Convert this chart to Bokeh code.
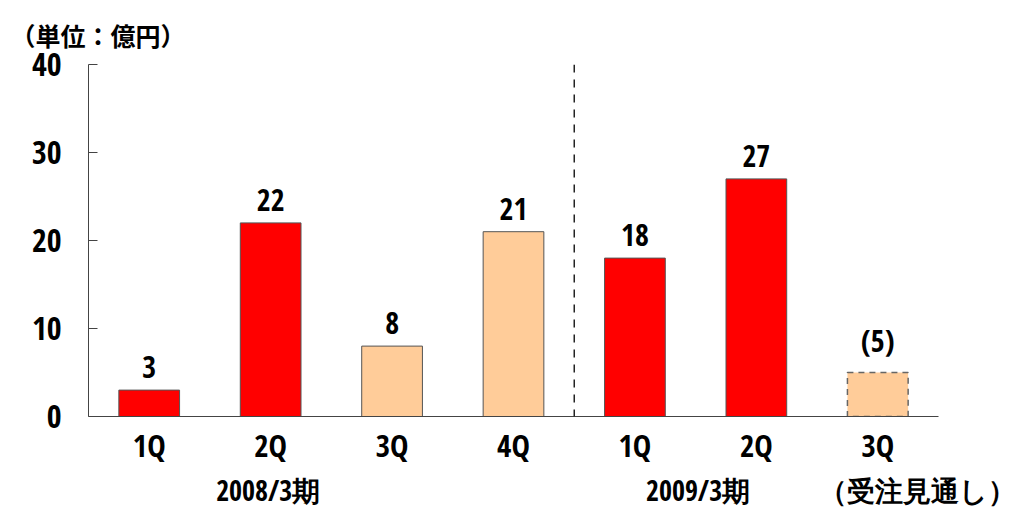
from bokeh.plotting import figure
from bokeh.models import Range1d, FixedTicker, ColumnDataSource, Span, LinearAxis
from bokeh.core.properties import value
from bokeh.embed import file_html
from bokeh.resources import INLINE

# Quarterly orders (unit: 100 million yen)
quarters = ["1Q", "2Q", "3Q", "4Q", "1Q", "2Q", "3Q"]
orders = [3, 22, 8, 21, 18, 27, 5]
value_labels = ["3", "22", "8", "21", "18", "27", "(5)"]
bar_colors = ["#FF0000", "#FF0000", "#FFCC99", "#FFCC99", "#FF0000", "#FF0000", "#FFCC99"]
period_labels = ["2008/3期", "2009/3期", "（受注見通し）"]
period_centers = [1.48, 5.02, 6.86]

NUM_FONT = "Open Sans Condensed"
JP_FONT = "Noto Sans CJK JP"

xs = [i + 0.5 for i in range(len(orders))]

p = figure(width=1015, height=511, output_backend="svg", toolbar_location=None,
           x_range=Range1d(0, 7), y_range=Range1d(0, 40),
           min_border_left=88, min_border_right=77, min_border_top=64, min_border_bottom=94,
           title="（単位：億円）")
p.outline_line_color = None
p.xgrid.grid_line_color = None
p.ygrid.grid_line_color = None

p.title.text_font = JP_FONT
p.title.text_font_style = "bold"
p.title.text_font_size = "25px"
p.title.text_color = "black"
p.title.align = "left"
p.title.vertical_align = "top"
p.title.offset = -78
p.title.standoff = 20

solid = ColumnDataSource(dict(x=xs[:-1], top=orders[:-1], color=bar_colors[:-1]))
p.vbar(x="x", top="top", width=0.5, bottom=0, source=solid,
       fill_color="color", line_color="#555555", line_width=1)

forecast = ColumnDataSource(dict(x=xs[-1:], top=orders[-1:], color=bar_colors[-1:]))
p.vbar(x="x", top="top", width=0.5, bottom=0, source=forecast,
       fill_color="color", line_color="#666666", line_width=1.5, line_dash="6 5")

labels = ColumnDataSource(dict(x=xs, y=orders, t=value_labels))
p.text(x="x", y="y", text="t", source=labels, y_offset=-12,
       text_align="center", text_baseline="bottom",
       text_font=value(NUM_FONT), text_font_style="bold",
       text_font_size="30px", text_color="black")

# divider between fiscal years
p.add_layout(Span(location=4, dimension="height", line_color="black",
                  line_width=1.3, line_dash="8 7"))

# y axis
p.yaxis.ticker = FixedTicker(ticks=[0, 10, 20, 30, 40])
p.yaxis.major_tick_in = 9
p.yaxis.major_tick_out = 0
p.yaxis.minor_tick_line_color = None
p.yaxis.axis_line_color = "#444444"
p.yaxis.major_tick_line_color = "#444444"
p.yaxis.major_label_text_font = NUM_FONT
p.yaxis.major_label_text_font_style = "bold"
p.yaxis.major_label_text_font_size = "32px"
p.yaxis.major_label_text_color = "black"
p.yaxis.major_label_standoff = 27

# x axis: quarter names
p.xaxis.ticker = FixedTicker(ticks=xs)
p.xaxis.major_label_overrides = {x: q for x, q in zip(xs, quarters)}
p.xaxis.major_tick_in = 0
p.xaxis.major_tick_out = 0
p.xaxis.minor_tick_line_color = None
p.xaxis.axis_line_color = "#444444"
p.xaxis.major_label_text_font = NUM_FONT
p.xaxis.major_label_text_font_style = "bold"
p.xaxis.major_label_text_font_size = "31px"
p.xaxis.major_label_text_color = "black"
p.xaxis.major_label_standoff = 7

# second row below: fiscal periods
period_axis = LinearAxis(ticker=FixedTicker(ticks=period_centers),
                         major_label_overrides={c: t for c, t in zip(period_centers, period_labels)})
period_axis.axis_line_color = None
period_axis.major_tick_line_color = None
period_axis.minor_tick_line_color = None
period_axis.major_label_text_font = NUM_FONT
period_axis.major_label_text_font_style = "bold"
period_axis.major_label_text_font_size = "28px"
period_axis.major_label_text_color = "black"
period_axis.major_label_standoff = -4
p.add_layout(period_axis, "below")

open("out.html", "w").write(file_html(p, INLINE))
